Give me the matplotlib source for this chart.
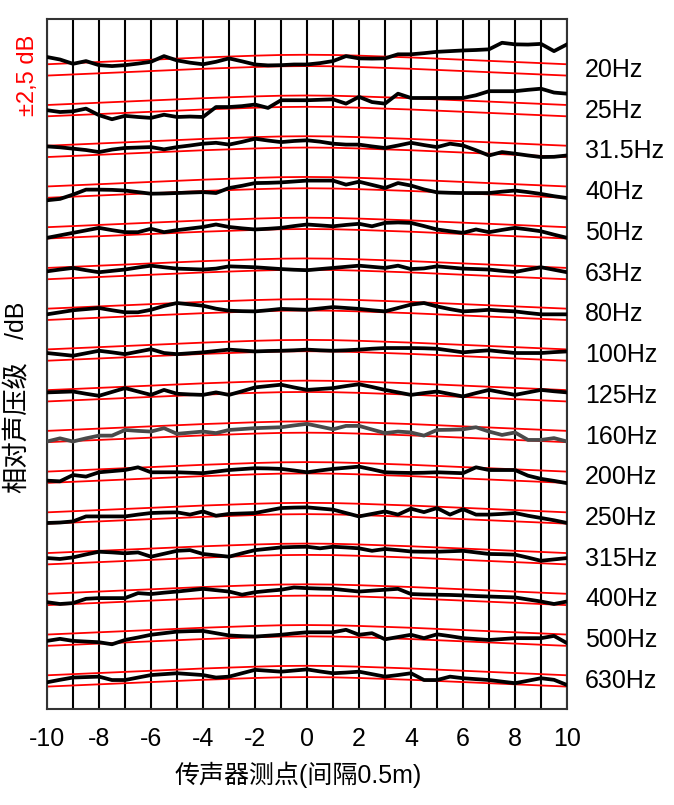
"""Relative SPL along the microphone line, one trace per 1/3-octave band,
with the +-2.5 dB tolerance corridor drawn in red."""
import numpy as np
import matplotlib
matplotlib.use("Agg")
import matplotlib.pyplot as plt

plt.rcParams["font.family"] = ["Liberation Sans", "Noto Sans CJK SC", "DejaVu Sans"]
plt.rcParams["axes.unicode_minus"] = False

BANDS = ["20Hz", "25Hz", "31.5Hz", "40Hz", "50Hz", "63Hz", "80Hz", "100Hz",
         "125Hz", "160Hz", "200Hz", "250Hz", "315Hz", "400Hz", "500Hz", "630Hz"]
POINTS = np.arange(-10, 10.5, 0.5)      # trace sampled every half step
GRID = np.arange(-10, 11)               # microphone positions
XTICKS = list(range(-10, 11, 2))

# reference curve (dB, relative to band baseline) at each microphone
REF = [0.0, 0.5, 1.0, 1.5, 2.0, 2.5, 3.0, 3.4, 3.8, 4.1, 4.2,
       4.1, 3.8, 3.4, 3.0, 2.5, 2.0, 1.5, 1.0, 0.5, 0.0]
TOL = 2.5
STEP = 18   # dB between stacked bands

lvl_20 = [5.7, 4.6, 2.7, 3.9, 2.1, 1.7, 2.1, 2.8, 3.6, 6.1, 4.2, 3.2, 2.5, 3.6, 5.1, 3.8,
          2.4, 2.0, 2.1, 2.4, 2.4, 3.0, 3.9, 6.1, 5.1, 5.0, 5.1, 6.9, 6.9, 7.4, 8.0, 8.3,
          8.6, 8.8, 9.1, 12.0, 11.3, 11.2, 11.5, 8.3, 11.3]
lvl_25 = [0.2, -0.6, -0.3, 0.9, -2.0, -3.8, -2.3, -2.8, -3.2, -1.8, -2.8, -2.6, -2.8, 1.6,
          1.6, 2.0, 2.7, 1.2, 4.6, 4.6, 4.6, 4.8, 5.0, 3.1, 6.1, 3.8, 3.1, 7.5, 5.6, 5.6,
          5.6, 5.6, 5.6, 6.8, 8.6, 8.6, 8.6, 9.2, 9.7, 8.0, 7.5]
lvl_31 = [2.2, 1.8, 1.2, 0.6, -0.3, 0.8, 1.5, 1.7, 1.9, 0.9, 1.9, 2.6, 3.4, 3.8, 3.0, 4.2,
          5.6, 4.8, 4.1, 4.6, 4.9, 4.3, 3.4, 3.0, 3.0, 2.2, 1.5, 2.6, 3.8, 2.8, 1.9, 3.4,
          2.6, 0.5, -1.8, -0.3, -1.0, -1.8, -2.5, -2.4, -1.8]
lvl_40 = [-3.6, -3.0, -1.1, 1.1, 1.1, 1.0, 0.7, 0.0, -0.7, -0.6, -0.4, -0.2, 0.0, -0.4,
          1.8, 2.8, 4.0, 4.1, 4.3, 4.7, 5.1, 5.1, 5.1, 3.3, 4.6, 3.2, 1.8, 4.0, 2.9, 1.2,
          -0.1, -0.3, -0.4, -0.4, -0.4, 0.2, 0.7, 0.0, -0.8, -1.8, -2.6]
lvl_50 = [-2.2, -1.1, 0.0, 1.1, 2.2, 1.2, 0.3, 0.3, 1.8, 0.3, 1.2, 1.9, 2.6, 3.7, 2.6, 2.0,
          1.5, 1.8, 2.2, 3.0, 3.7, 3.3, 2.9, 3.5, 4.0, 2.9, 4.4, 4.6, 4.4, 3.0, 1.5, 0.7,
          0.0, 1.5, 0.3, 1.3, 2.2, 1.5, 0.7, -0.8, -2.2]
lvl_63 = [1.0, 1.8, 2.5, 1.5, 0.6, 1.2, 1.8, 2.7, 3.5, 2.8, 2.2, 2.0, 1.8, 2.2, 3.2, 3.0,
          2.8, 2.4, 2.0, 1.7, 1.5, 2.0, 2.5, 3.0, 3.5, 3.0, 2.5, 3.5, 2.0, 2.3, 3.2, 2.7,
          2.2, 2.0, 1.8, 1.2, 0.7, 1.8, 2.8, 1.7, 0.6]
lvl_80 = [0.0, 0.9, 1.8, 2.3, 2.8, 1.8, 0.9, 0.9, 2.0, 3.7, 5.0, 4.4, 3.8, 2.5, 1.6, 1.4,
          1.3, 1.8, 2.4, 2.2, 2.0, 2.6, 3.2, 2.8, 2.4, 1.8, 1.3, 2.8, 4.3, 5.0, 3.5, 2.3,
          1.3, 1.6, 2.0, 1.6, 1.3, 0.6, 0.0, 0.0, 0.0]
lvl_100 = [0.9, 0.3, -0.3, 0.8, 1.9, 1.2, 0.4, 1.5, 2.6, 0.9, 0.4, 0.8, 1.2, 1.8, 2.4, 2.0,
           1.6, 1.8, 1.9, 2.1, 2.4, 2.1, 1.9, 2.1, 2.4, 2.8, 3.1, 3.1, 3.1, 3.0, 2.8, 2.0,
           1.2, 1.7, 2.1, 1.5, 0.9, 0.9, 0.9, 1.3, 1.6]
lvl_125 = [1.5, 1.7, 1.9, 0.9, 0.0, 1.7, 3.4, 1.9, 0.4, 2.6, 0.9, 0.6, 0.4, 1.5, 0.4, 2.0,
           3.7, 4.3, 4.9, 3.7, 2.6, 3.0, 3.4, 4.3, 5.1, 3.9, 2.6, 1.5, 0.4, 1.2, 1.9, 0.8,
           -0.3, 1.2, 2.6, 1.5, 0.4, 1.5, 2.6, 2.0, 1.5]
lvl_160 = [-2.2, -0.8, -2.2, -0.8, 0.4, 0.4, 2.9, 2.5, 2.2, 3.7, 1.2, 1.7, 2.2, 1.5, 2.9, 3.3,
           3.7, 3.9, 4.1, 4.9, 5.6, 4.4, 3.2, 4.7, 4.7, 3.1, 1.5, 2.2, 1.8, 0.4, 2.9, 3.0,
           3.2, 4.1, 2.2, 0.7, 1.8, -1.5, -1.5, -0.7, -2.2]
lvl_200 = [-1.5, -1.8, 1.0, 0.3, 2.2, 2.7, 3.2, 4.4, 2.2, 2.2, 2.2, 2.0, 1.8, 2.5, 3.2, 3.6,
           4.0, 3.9, 3.7, 3.0, 2.2, 3.0, 3.7, 4.2, 4.7, 3.5, 2.2, 2.0, 1.9, 2.0, 2.2, 2.0,
           1.8, 4.4, 3.2, 3.2, 3.2, 0.7, -0.7, -1.6, -2.6]
lvl_250 = [-2.2, -2.0, -1.5, 0.7, 0.7, 0.7, 0.7, 1.5, 2.2, 2.4, 2.5, 1.5, 2.9, 1.0, 1.8, 2.0,
           2.2, 3.3, 4.4, 4.6, 4.7, 4.2, 3.7, 2.2, 0.7, 1.8, 2.9, 1.5, 4.1, 2.6, 4.4, 1.5,
           3.9, 1.5, 1.5, 1.8, 2.2, 1.0, 0.0, -1.0, -2.2]
lvl_315 = [0.3, -0.1, 0.6, 1.9, 3.1, 2.8, 2.4, 2.8, 0.9, 2.2, 3.5, 3.8, 2.1, 1.5, 0.9, 2.4,
           3.8, 4.4, 5.0, 5.2, 5.3, 4.6, 5.3, 5.0, 4.6, 3.5, 4.3, 3.8, 3.2, 3.1, 3.1, 3.3,
           3.5, 2.8, 2.1, 2.0, 1.8, 0.5, -0.9, -0.3, 0.3]
lvl_400 = [-1.2, -2.0, -1.6, 0.3, 0.6, 0.6, 0.6, 2.8, 2.4, 3.0, 3.5, 4.1, 4.7, 4.1, 3.5, 2.1,
           3.2, 3.8, 4.3, 5.3, 5.0, 4.8, 4.7, 4.1, 3.5, 3.9, 4.3, 4.7, 2.4, 2.2, 2.1, 2.0,
           1.8, 1.5, 1.3, 1.1, 0.9, 0.0, -0.9, -2.0, -0.9]
lvl_500 = [-0.3, 0.6, -0.3, -0.6, -0.9, -1.8, 0.1, 1.2, 2.4, 3.1, 3.8, 4.0, 4.1, 3.1, 2.1, 1.8,
           1.6, 2.0, 2.4, 3.0, 3.5, 3.5, 3.5, 4.6, 2.4, 3.1, 0.4, 1.4, 2.4, 0.9, 2.6, 1.8,
           0.9, 0.5, 0.1, 0.5, 0.9, 0.9, 0.9, 1.9, -1.3]
lvl_630 = [-0.6, 0.5, 1.5, 1.7, 1.9, 0.4, 0.4, 1.5, 2.6, 3.0, 3.4, 3.0, 2.6, 1.5, 1.9, 3.4,
           4.9, 4.5, 4.1, 4.6, 5.1, 4.2, 3.4, 3.7, 4.1, 3.0, 1.9, 2.6, 3.4, 0.4, 0.4, 1.9,
           1.2, 0.8, 0.4, -0.3, -1.0, 0.1, 1.2, 0.5, -1.8]

LEVELS = [lvl_20, lvl_25, lvl_31, lvl_40, lvl_50, lvl_63, lvl_80, lvl_100,
          lvl_125, lvl_160, lvl_200, lvl_250, lvl_315, lvl_400, lvl_500, lvl_630]
GRAY_BAND = "160Hz"

W, H = 674, 805
fig = plt.figure(figsize=(W / 100, H / 100), dpi=100)
ax = fig.add_axes([47 / W, 1 - 709 / H, 520 / W, 690 / H])

for g in GRID:
    ax.axvline(g, color="black", lw=1.5, zorder=1)

ref = np.array(REF)
for k, (name, lv) in enumerate(zip(BANDS, LEVELS)):
    off = -STEP * k
    ax.plot(GRID, ref + TOL + off, color="#ff0000", lw=1.3, zorder=2)
    ax.plot(GRID, ref - TOL + off, color="#ff0000", lw=1.3, zorder=2)
    cor = "#4a4a4a" if name == GRAY_BAND else "black"
    ax.plot(POINTS, np.array(lv) + off, color=cor, lw=2.7, zorder=3,
            solid_joinstyle="round")
    ax.text(1.035, off, name, transform=ax.get_yaxis_transform(),
            ha="left", va="center", fontsize=18)

ax.set_xlim(-10, 10)
ax.set_ylim(-STEP * 15 - 12.4, 22.5)
ax.set_yticks([])
ax.set_xticks(XTICKS)
ax.set_xticklabels([str(t) for t in XTICKS], fontsize=18)
ax.tick_params(axis="x", length=0, pad=13)
for s in ax.spines.values():
    s.set_color("#333333")
    s.set_linewidth(1.5)

fig.text(298 / W, 1 - 775 / H, "传声器测点(间隔0.5m)", ha="center", va="center",
         fontsize=18)
fig.text(17 / W, 1 - 427 / H, "相对声压级", rotation=90, ha="center", va="center",
         fontsize=19)
fig.text(17 / W, 1 - 320 / H, "/dB", rotation=90, ha="center", va="center",
         fontsize=18)
fig.text(28 / W, 1 - 75 / H, "±2,5 dB", rotation=90, ha="center", va="center",
         fontsize=17, color="#ff0000")

fig.savefig("out.png", dpi=100)
